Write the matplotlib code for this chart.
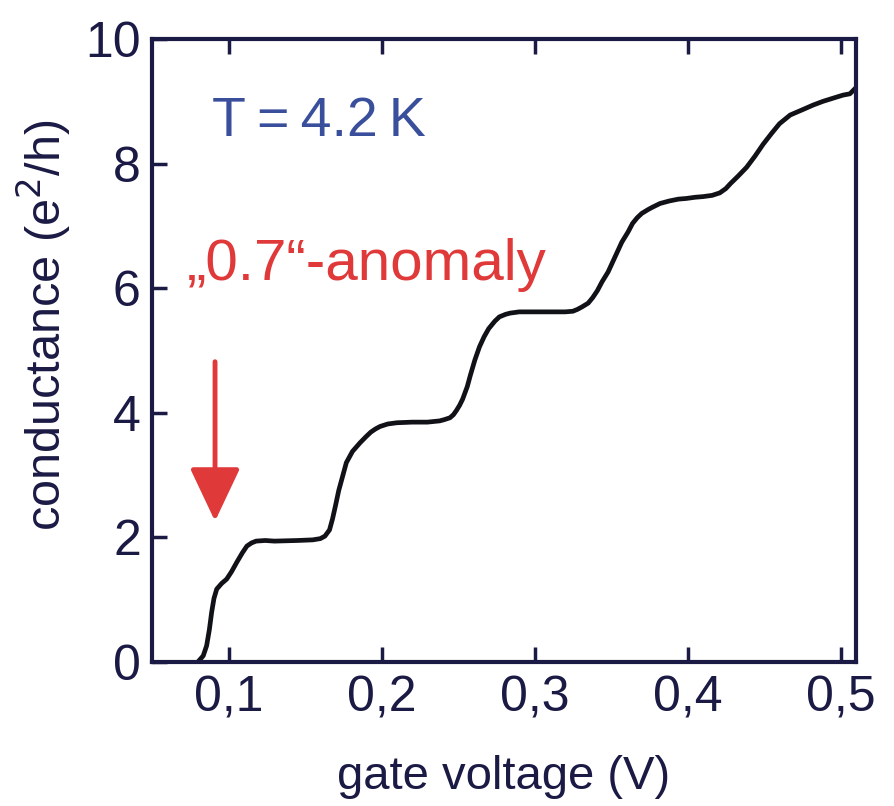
import matplotlib.pyplot as plt
from matplotlib import font_manager

# --- data ---
gate_v = [0.080, 0.0835, 0.0857, 0.0875, 0.089, 0.0905, 0.0923, 0.0955, 0.0988,
          0.102, 0.1054, 0.109, 0.112, 0.115, 0.118, 0.124,
          0.130, 0.145, 0.155, 0.160, 0.163, 0.166, 0.168, 0.170, 0.172, 0.175,
          0.177, 0.181, 0.186, 0.190, 0.193, 0.196, 0.199, 0.204,
          0.210, 0.220, 0.230, 0.238, 0.241, 0.2447, 0.247, 0.249, 0.251, 0.253,
          0.256, 0.258, 0.261, 0.264, 0.267, 0.270, 0.274, 0.277, 0.281,
          0.284, 0.290, 0.300, 0.310, 0.320, 0.325, 0.328, 0.331, 0.335, 0.338,
          0.341, 0.344, 0.348, 0.351, 0.354, 0.357, 0.361, 0.364, 0.367,
          0.370, 0.374, 0.377, 0.382, 0.388, 0.394, 0.399, 0.405, 0.410, 0.416,
          0.421, 0.425, 0.428, 0.433, 0.4385, 0.444, 0.4493, 0.455,
          0.460, 0.467, 0.4755, 0.482, 0.4885, 0.495, 0.5016, 0.506, 0.508,
          0.510]
conductance = [0.0, 0.10, 0.26, 0.52, 0.80, 1.02, 1.17, 1.26, 1.33,
               1.45, 1.60, 1.75, 1.86, 1.91, 1.94, 1.95,
               1.94, 1.95, 1.96, 1.98, 2.02, 2.12, 2.30, 2.52, 2.75, 3.02,
               3.20, 3.38, 3.52, 3.62, 3.69, 3.74, 3.78, 3.82,
               3.84, 3.85, 3.85, 3.87, 3.89, 3.92, 3.97, 4.04, 4.12, 4.22,
               4.42, 4.60, 4.85, 5.06, 5.22, 5.35, 5.47, 5.54, 5.58,
               5.60, 5.62, 5.62, 5.62, 5.62, 5.63, 5.66, 5.70, 5.76, 5.85,
               5.96, 6.10, 6.26, 6.42, 6.58, 6.74, 6.90, 7.04, 7.13,
               7.20, 7.26, 7.30, 7.36, 7.40, 7.43, 7.44, 7.46, 7.47, 7.49,
               7.53, 7.60, 7.68, 7.80, 7.94, 8.12, 8.31, 8.49,
               8.64, 8.78, 8.87, 8.94, 9.00, 9.05, 9.10, 9.12, 9.17,
               9.22]

x_ticks = [0.1, 0.2, 0.3, 0.4, 0.5]
x_tick_labels = ['0,1', '0,2', '0,3', '0,4', '0,5']
y_ticks = [0, 2, 4, 6, 8, 10]

names = {f.name for f in font_manager.fontManager.ttflist}
FONT = 'Liberation Sans Narrow' if 'Liberation Sans Narrow' in names else 'Liberation Sans'
plt.rcParams['font.family'] = [FONT, 'DejaVu Sans']

NAVY = '#1b1a45'
RED = '#e0393a'
BLUE = '#3a4f9c'

fig = plt.figure(figsize=(8.94, 8.06), dpi=100)
ax = fig.add_axes([0.170, 0.1787, 0.7875, 0.7729])

ax.plot(gate_v, conductance, color='#111118', lw=3.4, solid_capstyle='round')

ax.set_xlim(0.05, 0.51)
ax.set_ylim(0, 10)
ax.set_xticks(x_ticks)
ax.set_xticklabels(x_tick_labels)
ax.set_yticks(y_ticks)

for s in ax.spines.values():
    s.set_linewidth(3)
    s.set_color(NAVY)

ax.tick_params(direction='in', length=11, width=2.5, colors=NAVY,
               labelsize=36, top=True, right=False, pad=10)
ax.tick_params(axis='y', pad=8)

ax.set_xlabel('gate voltage (V)', fontsize=34, color=NAVY, labelpad=24)
ax.set_ylabel('conductance (e$^2$/h)', fontsize=35, color=NAVY)
ax.yaxis.set_label_coords(-0.112, 0.54)

ax.text(0.0892, 8.45, 'T\u2009=\u20094.2\u2009K', fontsize=40, color=BLUE,
        va='baseline', ha='left')
ax.text(0.0729, 6.13, '\u201e0.7\u201c-anomaly', fontsize=42, color=RED,
        va='baseline', ha='left')

ax.annotate('', xy=(0.0912, 2.26), xytext=(0.0912, 4.82),
            arrowprops=dict(arrowstyle='-|>,head_width=0.52,head_length=1.1',
                            mutation_scale=30, color=RED, lw=3.5,
                            shrinkA=0, shrinkB=0))

fig.savefig('out.png', dpi=100)
